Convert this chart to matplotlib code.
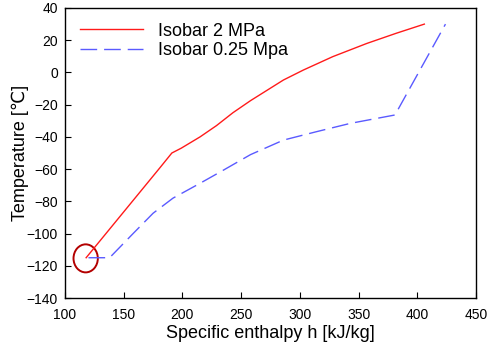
import matplotlib
matplotlib.use("Agg")
import matplotlib.pyplot as plt
from matplotlib.patches import Ellipse

plt.rcParams['font.family'] = ['Liberation Sans', 'DejaVu Sans']

# isobar 2 MPa
h_hi = [118, 145, 172, 181, 191, 199, 215, 229, 243, 258, 286, 303, 328, 357, 382, 406]
T_hi = [-115, -91, -67, -59, -50, -47, -40, -33, -25, -17.5, -4.7, 1.5, 9.8, 18, 24.3, 30]

# isobar 0.25 MPa
h_lo = [120, 138, 158, 175, 192, 215, 235, 258, 286, 314, 343, 381, 424]
T_lo = [-115, -115, -100, -87.4, -78, -68.8, -60.6, -51, -42, -36.8, -31.6, -26.4, 30]

fig = plt.figure(figsize=(4.97, 3.49), dpi=100)
ax = fig.add_axes([65/497, 1 - 298/349, 411/497, 290/349])

ax.plot(h_hi, T_hi, color='#ff1a1a', lw=1.0, label='Isobar 2 MPa')
ax.plot(h_lo, T_lo, color='#5a5aff', lw=1.0, dashes=(12, 5), label='Isobar 0.25 Mpa')

# highlight the start point
ax.add_patch(Ellipse((117.6, -115.4), 20.7, 17.4, fill=False,
                     edgecolor='#b30000', lw=1.4))

ax.set_xlim(100, 450)
ax.set_ylim(-140, 40)
ax.set_xticks(range(100, 451, 50))
ax.set_yticks(range(-140, 41, 20))
ax.tick_params(direction='in', length=4, labelsize=10, pad=5, top=False, right=False)
ax.tick_params(axis='x', pad=7)
for s in ax.spines.values():
    s.set_linewidth(1.0)

ax.set_xlabel('Specific enthalpy h [kJ/kg]', fontsize=13)
ax.set_ylabel('Temperature [℃]', fontsize=13)
ax.xaxis.set_label_coords(0.5, -0.093)
ax.yaxis.set_label_coords(-0.088, 0.5)

ax.legend(loc='upper left', frameon=False, fontsize=13, handlelength=3.5,
          handletextpad=0.8, borderaxespad=0, borderpad=0, labelspacing=0.15,
          bbox_to_anchor=(15/411, 0.95))

fig.savefig('out.png', dpi=100)
